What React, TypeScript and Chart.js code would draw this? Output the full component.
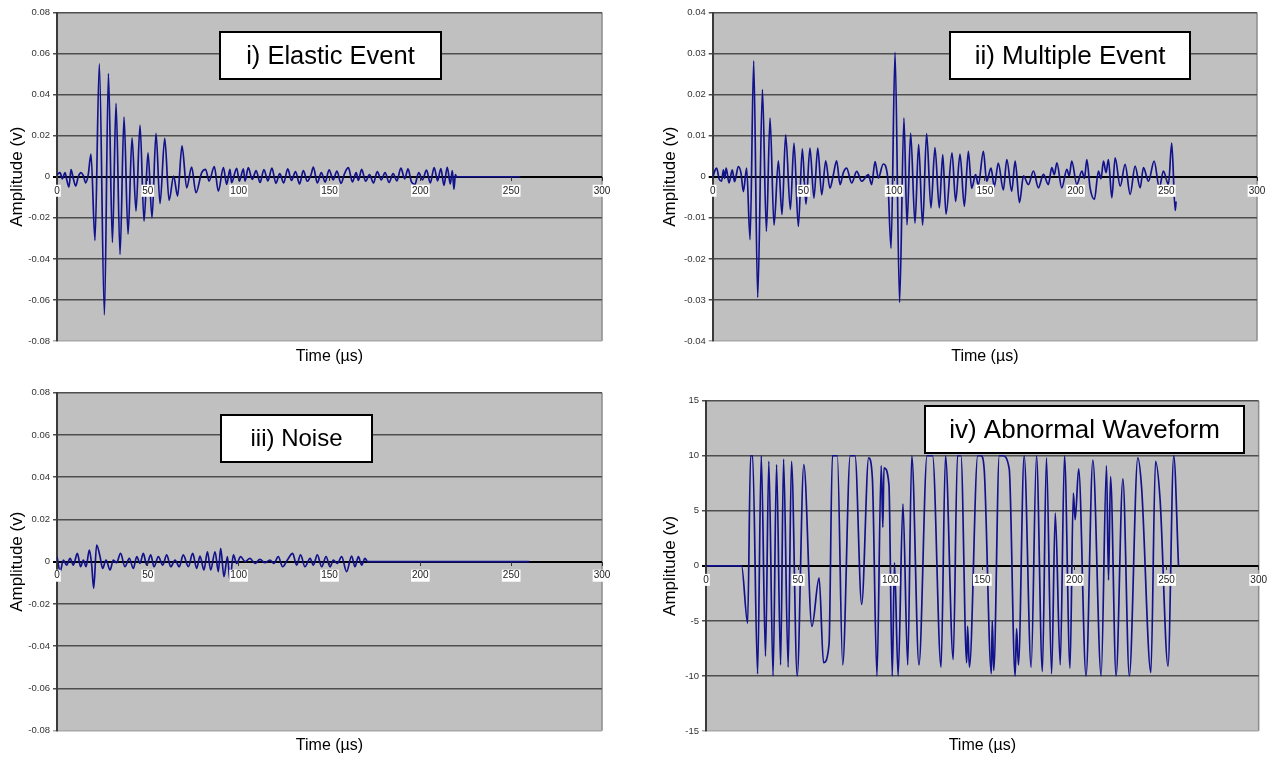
import React, { useEffect, useRef } from 'react';
import { Chart, registerables } from 'chart.js';

Chart.register(...registerables);

const FONT = "Arial, 'Liberation Sans', Helvetica, sans-serif";

// ---------- shared tick values ----------
const timeTicks = [0, 50, 100, 150, 200, 250, 300];
const ampTicks008 = [-0.08, -0.06, -0.04, -0.02, 0, 0.02, 0.04, 0.06, 0.08];
const ampTicks004 = [-0.04, -0.03, -0.02, -0.01, 0, 0.01, 0.02, 0.03, 0.04];
const ampTicks15 = [-15, -10, -5, 0, 5, 10, 15];

// ---------- i) Elastic Event ----------
const elasticTimes = [
  0, 1.7, 2.9, 4.4, 5.5, 6.6, 7.7, 9.0, 10.3, 11.7, 13.2, 14.5, 15.8, 17.2,
  18.7, 20.9, 23.3, 26.1, 28.3, 30.5, 32.5, 34.7, 36.9, 39.1, 41.3, 43.5, 45.7, 47.9,
  50.1, 52.3, 54.5, 56.7, 59.3, 61.7, 64.2, 66.4, 68.8, 71.4, 74.1, 76.5, 79.6, 81.8,
  83.7, 86.6, 88.8, 91.6, 93.4, 95.2, 96.1, 98.9, 100.4, 102.6, 103.5, 105.3, 107.5,
  109.6, 111.8, 113.9, 116.1, 118.3, 120.5, 122.6, 124.8, 127.0, 129.1, 131.3, 133.5,
  135.6, 137.8, 139.9, 141.1, 143.3, 145.5, 147.6, 149.8, 152.0, 154.1, 156.3, 158.4,
  160.4, 162.6, 164.7, 165.9, 167.7, 169.9, 172.0, 174.2, 176.3, 178.5, 180.6, 182.8,
  185.0, 187.1, 189.3, 191.4, 193.2, 195.1, 197.0, 199.1, 201.2, 203.4, 205.5, 207.6,
  209.5, 211.3, 213.0, 214.8, 216.5, 217.6, 218.5, 219.3, 220.0, 255.0,
];
const elasticAmps = [
  0.001, 0.002, -0.001, 0.002, -0.002, -0.005, 0.0035, -0.001, -0.0045, 0.0, 0.002, 0.0005, -0.003, 0.001,
  0.011, -0.031, 0.055, -0.0673, 0.0503, -0.032, 0.0357, -0.0378, 0.029, -0.028, 0.019, -0.0167, 0.0251, -0.0216,
  0.0117, -0.02, 0.0211, -0.0131, 0.0187, -0.0115, 0.0003, -0.0094, 0.0151, -0.0054, 0.0047, -0.0078, 0.0019, 0.0036,
  -0.0021, 0.0049, -0.007, 0.0044, -0.0037, 0.0036, -0.0029, 0.0041, -0.0021, 0.0039, -0.0021, 0.0044, -0.0013,
  0.003, -0.0028, 0.0035, -0.002, 0.0042, -0.0032, 0.0015, -0.003, 0.0038, -0.0018, 0.0025, -0.0035,
  0.003, -0.0022, 0.0012, 0.0047, -0.003, 0.002, -0.0026, 0.0034, -0.0015, 0.0028, -0.0032, 0.0018,
  0.0044, -0.0025, 0.002, -0.0018, 0.0036, -0.0022, 0.001, -0.003, 0.0025, -0.0015, 0.002, -0.0028,
  0.0015, -0.002, 0.0042, -0.001, 0.0038, -0.0025, -0.0037, 0.002, -0.0015, 0.0032, -0.003, 0.0045,
  -0.002, 0.004, -0.0042, 0.0046, -0.0035, 0.003, -0.006, 0.001, 0, 0,
];

// ---------- ii) Multiple Event ----------
const multipleTimes = [
  0, 1.2, 2.2, 3.5, 4.9, 5.9, 6.6, 7.4, 9.0, 10.8, 12.0, 12.9, 14.1, 15.6, 16.9, 18.7,
  20.6, 22.6, 24.8, 27.4, 29.6, 31.6, 33.8, 36.2, 38.2, 40.2, 42.8, 44.8, 47.2, 49.4,
  51.4, 53.6, 55.8, 57.9, 60.1, 62.3, 64.6, 66.5, 68.3, 70.2, 72.0, 73.8, 76.6, 79.4,
  82.1, 85.8, 87.6, 89.5, 91.3, 94.0, 96.4,
  98.3, 100.5, 103.0, 105.4, 107.1, 109.1, 111.5, 113.5, 115.7, 117.9, 120.3, 122.5,
  124.9, 126.8, 128.6, 131.9, 133.9, 136.3, 138.7, 140.9, 142.7, 144.9, 146.4, 149.2,
  151.0, 153.4, 155.2, 157.4, 160.2, 162.1, 164.8, 166.7, 169.1, 171.3, 174.0, 176.8,
  179.5, 182.3, 185.0, 186.9, 188.3, 189.7, 192.4, 195.2, 196.5, 197.9, 200.7, 203.5,
  204.9, 206.2, 208.0, 210.4, 212.6, 214.0, 215.4, 216.8, 218.1, 220.0, 221.8, 224.6,
  227.3, 230.1, 232.8, 235.6, 237.4, 240.2, 243.3, 246.2, 248.4, 251.2, 253.0, 254.9, 255.4,
];
const multipleAmps = [
  -0.0003, 0.0015, 0.0021, -0.0005, -0.0011, 0.0017, -0.0004, 0.0021, -0.0015, 0.0017, -0.0012, 0.0002, 0.0025, 0.0009, -0.0036, 0.0021,
  -0.0153, 0.0282, -0.0294, 0.0212, -0.0133, 0.0143, -0.0118, 0.0039, -0.0092, 0.0102, -0.008, 0.0082, -0.0121, 0.0068,
  -0.0067, 0.007, -0.0052, 0.007, -0.0044, 0.0039, -0.0028, 0.0005, 0.0039, -0.0019, 0.001, 0.0021, -0.0015, 0.0013,
  -0.0011, 0.0005, -0.0019, 0.0037, -0.0003, 0.0031, 0,
  -0.0174, 0.0303, -0.0306, 0.0143, -0.0117, 0.0106, -0.0113, 0.0079, -0.0118, 0.0105, -0.0076, 0.0071,
  -0.0076, 0.0054, -0.0091, 0.0058, -0.006, 0.0055, -0.0072, 0.0062, -0.0028, 0.0005, -0.002, 0.0062,
  -0.0011, 0.0021, -0.0024, 0.0033, -0.0032, 0.0042, -0.0035, 0.0038, -0.0063, 0.0002, -0.0019, 0.0014,
  -0.0027, 0.0006, -0.0019, 0.0022, 0.0005, 0.0034, -0.0027, 0.0018, 0.0002, 0.0038, -0.0019, 0.0014,
  -0.0004, 0.0042, -0.0027, -0.0055, 0.0014, -0.0005, 0.0038, 0.001, 0.0042, -0.0051, 0.0046, -0.0023,
  0.003, -0.0043, 0.0026, -0.0027, 0.0022, -0.0011, 0.0038, -0.0027, 0.0014, -0.0019, 0.0082, -0.0082, -0.006,
];

// ---------- iii) Noise ----------
const noiseTimes = [
  0, 1.7, 3.5, 5.3, 7.2, 9.0, 11.2, 13.0, 14.5, 16.0, 17.8, 19.1, 20.2, 21.8, 23.7, 25.1,
  27.0, 29.2, 31.0, 32.8, 35.0, 37.4, 39.8, 42.0, 43.9, 45.7, 47.5, 49.4, 51.6, 53.4,
  55.8, 58.2, 60.4, 62.6, 65.0, 67.3, 69.5, 72.3, 74.7, 76.9, 78.7, 80.9, 82.8, 84.6,
  87.0, 88.8, 90.1, 91.9, 93.8, 95.2, 97.1, 98.9, 101.1, 103.5, 106.2, 109.0, 111.7,
  114.5, 117.2, 119.4, 121.8, 124.2, 126.8, 129.7, 131.9, 134.1, 136.5, 139.3, 141.1,
  143.3, 145.7, 148.1, 150.3, 152.1, 154.3, 156.7, 159.4, 162.2, 164.0, 165.9, 167.7,
  169.5, 171.0, 260.0,
];
const noiseAmps = [
  0.0024, -0.0047, 0.0008, -0.0016, 0.0016, -0.0016, 0.0039, -0.0024, 0.0008, -0.0024, 0.0055, -0.0016, -0.0126, 0.0079, 0.0024, -0.0032,
  0.0008, -0.0039, 0.0008, -0.0005, 0.0039, -0.0024, 0.0016, -0.0032, 0.0024, -0.0008, 0.0039, -0.0016, 0.0032, -0.0024,
  0.0024, -0.0016, 0.0032, -0.0024, 0.0008, -0.0024, 0.0032, -0.0024, 0.0039, -0.0032, 0.0027, -0.0039, 0.0047, -0.0039,
  0.0047, -0.0047, 0.0063, -0.0071, 0.0024, -0.0087, 0.0032, -0.0008, 0.0024, 0, 0.0016, -0.0008, 0.0011,
  -0.0005, 0.0008, -0.0008, 0.0024, -0.0024, 0.0008, 0.0039, -0.0016, 0.0032, -0.0024, 0.0016, -0.0016,
  0.0032, -0.0024, 0.0024, -0.0024, 0.0008, -0.0008, 0.0024, -0.0047, 0.0027, -0.0024, 0.0024, -0.0016,
  0.0016, 0, 0,
];

// ---------- iv) Abnormal Waveform ----------
const abnormalTimes = [
  0, 19.3, 22.6, 24.2, 25.3, 28.0, 30.0, 32.3, 34.1, 36.4, 38.3, 40.5, 42.1, 44.6, 46.4,
  49.5, 53.1, 57.5, 61.4, 63.8, 66.8, 68.6, 71.3, 74.2, 78.3, 80.9, 84.5, 88.3, 90.3,
  92.8, 95.1, 96.0, 96.6, 99.3, 101.1, 102.3, 104.3, 106.9, 109.5, 111.7, 115.6, 120.0,
  123.0, 127.6, 130.0, 134.2, 136.5, 138.4, 141.5, 142.0, 143.0, 147.5, 149.3, 151.0,
  154.9, 155.4, 156.2, 159.2, 161.0, 164.6, 167.8, 168.6, 169.6, 172.7, 176.5, 179.4,
  182.6, 184.8, 187.6, 189.6, 192.3, 194.6, 197.6, 199.4, 200.4, 202.3, 206.3, 210.0,
  214.5, 217.4, 218.5, 219.6, 222.6, 226.3, 229.8, 234.4, 236.5, 241.5, 244.0, 246.5,
  250.8, 253.9, 256.5,
];
const abnormalAmps = [
  0, 0, -5.2, 10, 10, -9.8, 10, -8.2, 9.5, -10, 9.2, -9.0, 9.7, -9.2, 9.5,
  -10, 9.2, -5.5, -1.1, -8.8, -7.1, 10, 10, -9.0, 10, 10, -3.5, 9.8, 8.0,
  -10, 9.1, 3.5, 8.9, 7.4, -10, 0.3, -10, 5.6, -9.0, 10, -9.0, 10,
  10, -9.2, 10, -8.5, 10, 10, -8.8, -5.5, -9.2, 10, 10, 8.8,
  -9.8, -5.0, -9.5, 10, 10, 8.8, -10, -5.7, -9.0, 10, -9.2, 10,
  -9.6, 9.8, -9.8, 4.8, -9.0, 10, -9.3, 6.6, 4.2, 8.8, -10, 9.6,
  -10, 9.1, -1.3, 8.1, -10, 7.9, -10, 9.8, 7.0, -9.7, 9.5, 6.0,
  -9.1, 10, 0,
];

type Panel = {
  left: number; top: number; width: number; height: number;
  plot: { l: number; t: number; r: number; b: number };
  yMin: number; yMax: number; yTicks: number[]; decimals: number;
  yTitlePad: number;
  title: string; titleSize: number; box: { x: number; y: number; w: number; h: number };
  times: number[]; amps: number[];
};

const panels: Panel[] = [
  {
    left: 0, top: 0, width: 630, height: 366,
    plot: { l: 57, t: 12.5, r: 602, b: 341 },
    yMin: -0.08, yMax: 0.08, yTicks: ampTicks008, decimals: 2, yTitlePad: 6.8,
    title: 'i) Elastic Event', titleSize: 25.5, box: { x: 220, y: 32, w: 221, h: 47 },
    times: elasticTimes, amps: elasticAmps,
  },
  {
    left: 640, top: 0, width: 631, height: 366,
    plot: { l: 72.7, t: 12.5, r: 617, b: 341 },
    yMin: -0.04, yMax: 0.04, yTicks: ampTicks004, decimals: 2, yTitlePad: 19.8,
    title: 'ii) Multiple Event', titleSize: 26, box: { x: 310, y: 32, w: 240, h: 47 },
    times: multipleTimes, amps: multipleAmps,
  },
  {
    left: 0, top: 380, width: 630, height: 375,
    plot: { l: 57, t: 12.7, r: 602, b: 350.7 },
    yMin: -0.08, yMax: 0.08, yTicks: ampTicks008, decimals: 2, yTitlePad: 6.8,
    title: 'iii) Noise', titleSize: 24, box: { x: 221, y: 35, w: 151, h: 47 },
    times: noiseTimes, amps: noiseAmps,
  },
  {
    left: 640, top: 380, width: 631, height: 375,
    plot: { l: 66, t: 20.7, r: 620, b: 351 },
    yMin: -15, yMax: 15, yTicks: ampTicks15, decimals: 0, yTitlePad: 19.8,
    title: 'iv) Abnormal Waveform', titleSize: 26, box: { x: 285, y: 26, w: 319, h: 47 },
    times: abnormalTimes, amps: abnormalAmps,
  },
];

function fmt(v: number, decimals: number) {
  if (Math.abs(v) < 1e-9) return '0';
  return decimals > 0 ? v.toFixed(decimals) : String(Math.round(v));
}

function buildChart(canvas: HTMLCanvasElement, p: Panel) {
  const padTop = p.plot.t;
  const padRight = p.width - p.plot.r;
  const xAxisH = p.height - p.plot.b;

  const bgPlugin = {
    id: 'plotBg',
    beforeDraw(chart: any) {
      const { ctx, chartArea } = chart;
      const { left, top, right, bottom } = chartArea;
      ctx.save();
      ctx.fillStyle = '#c0c0c0';
      ctx.fillRect(left, top, right - left, bottom - top);
      ctx.strokeStyle = '#8c8c8c';
      ctx.lineWidth = 1.5;
      ctx.beginPath();
      ctx.moveTo(right, top);
      ctx.lineTo(right, bottom);
      ctx.stroke();
      ctx.restore();
    },
  };

  const boxPlugin = {
    id: 'labelBox',
    afterDraw(chart: any) {
      const { ctx } = chart;
      const b = p.box;
      ctx.save();
      ctx.fillStyle = '#ffffff';
      ctx.fillRect(b.x, b.y, b.w, b.h);
      ctx.strokeStyle = '#000000';
      ctx.lineWidth = 2;
      ctx.strokeRect(b.x, b.y, b.w, b.h);
      ctx.fillStyle = '#000000';
      ctx.font = `${p.titleSize}px ${FONT}`;
      ctx.textAlign = 'center';
      ctx.textBaseline = 'middle';
      ctx.fillText(p.title, b.x + b.w / 2, b.y + b.h / 2 + 1);
      ctx.restore();
    },
  };

  return new Chart(canvas, {
    type: 'line',
    data: {
      datasets: [
        {
          data: p.times.map((t, i) => ({ x: t, y: p.amps[i] })),
          borderColor: '#12128c',
          borderWidth: 1.7,
          pointRadius: 0,
          cubicInterpolationMode: 'monotone',
          fill: false,
          xAxisID: 'x',
          yAxisID: 'y',
        },
      ],
    },
    options: {
      responsive: false,
      animation: false,
      devicePixelRatio: 1,
      layout: { padding: { left: 0, top: padTop, right: padRight, bottom: 0 }, autoPadding: false },
      plugins: { legend: { display: false }, tooltip: { enabled: false } },
      scales: {
        x: {
          type: 'linear',
          position: 'bottom',
          min: 0,
          max: 300,
          afterFit: (s: any) => { s.height = xAxisH; },
          ticks: { display: false },
          grid: { display: false },
          border: { display: false },
          title: {
            display: true,
            text: 'Time (µs)',
            color: '#000',
            font: { family: FONT, size: 16 },
            padding: 0,
          },
        },
        xZero: {
          type: 'linear',
          position: { y: 0 },
          min: 0,
          max: 300,
          afterBuildTicks: (s: any) => { s.ticks = timeTicks.map((v) => ({ value: v })); },
          ticks: {
            z: 2,
            color: '#222',
            font: { family: FONT, size: 10 },
            padding: 4,
            maxRotation: 0,
            autoSkip: false,
            showLabelBackdrop: true,
            backdropColor: '#ffffff',
            backdropPadding: { x: 1, y: 0 },
          },
          grid: { z: 1, display: true, drawOnChartArea: false, drawTicks: true, tickLength: 4, color: '#333' },
          border: { display: false },
        },
        y: {
          type: 'linear',
          position: 'left',
          min: p.yMin,
          max: p.yMax,
          afterFit: (s: any) => { s.width = p.plot.l; },
          afterBuildTicks: (s: any) => { s.ticks = p.yTicks.map((v) => ({ value: v })); },
          ticks: {
            color: '#333',
            font: { family: FONT, size: 9.5 },
            padding: 3,
            autoSkip: false,
            callback: (v: any) => fmt(Number(v), p.decimals),
          },
          grid: {
            tickLength: 4,
            color: (ctx: any) => {
              const v = ctx.tick ? ctx.tick.value : NaN;
              if (Math.abs(v) < 1e-9) return '#000000';
              if (Math.abs(v - p.yMin) < 1e-9) return '#a8a8a8';
              return '#4e4e4e';
            },
            lineWidth: (ctx: any) => {
              const v = ctx.tick ? ctx.tick.value : NaN;
              return Math.abs(v) < 1e-9 ? 2 : 1.5;
            },
          },
          border: { display: true, color: '#3a3a3a', width: 2 },
          title: {
            display: true,
            text: 'Amplitude (v)',
            color: '#000',
            font: { family: FONT, size: 17 },
            padding: { top: p.yTitlePad, bottom: 0 },
          },
        },
      },
    } as any,
    plugins: [bgPlugin, boxPlugin],
  });
}

function PanelChart({ p }: { p: Panel }) {
  const ref = useRef<HTMLCanvasElement | null>(null);
  useEffect(() => {
    if (!ref.current) return;
    const chart = buildChart(ref.current, p);
    return () => chart.destroy();
  }, [p]);
  return (
    <canvas
      ref={ref}
      width={p.width}
      height={p.height}
      style={{ position: 'absolute', left: p.left, top: p.top, width: p.width, height: p.height }}
    />
  );
}

export default function App() {
  return (
    <div style={{ position: 'absolute', left: 0, top: 0, width: 1271, height: 757, background: '#ffffff', overflow: 'hidden' }}>
      {panels.map((p) => (
        <PanelChart key={p.title} p={p} />
      ))}
    </div>
  );
}
